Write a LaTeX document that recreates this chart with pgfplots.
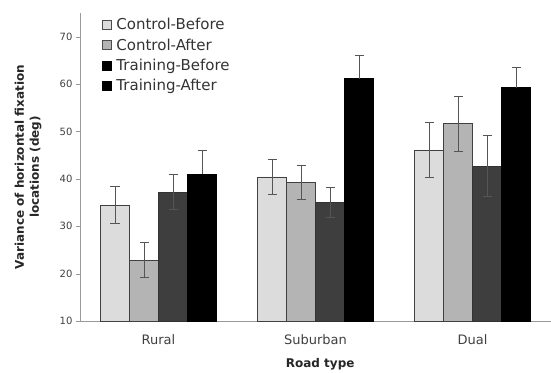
\documentclass[border=0pt]{standalone}
\usepackage{pgfplots}
\pgfplotsset{compat=1.18}
\usepackage{fontspec}
\setmainfont{DejaVu Sans}
\definecolor{cb}{HTML}{DCDCDC}
\definecolor{ca}{HTML}{B4B4B4}
\definecolor{tb}{HTML}{3E3E3E}
\definecolor{ta}{HTML}{000000}
\definecolor{errc}{HTML}{555555}
\definecolor{axc}{HTML}{9A9A9A}
\begin{document}
\begin{tikzpicture}
\path[use as bounding box] (-80pt,-51pt) rectangle (471pt,321pt);
\begin{axis}[
  at={(0pt,0pt)}, anchor=south west,
  width=471pt, height=308pt, scale only axis,
  ymin=10, ymax=75, xmin=-0.5, xmax=2.5,
  ybar, bar width=29pt,
  axis x line*=bottom, axis y line*=left,
  axis line style={draw=axc, line width=0.8pt},
  ytick={10,20,...,70},
  xtick={0,1,2}, xticklabels={Rural,Suburban,Dual},
  major x tick style={draw=none},
  extra x ticks={0.5,1.5}, extra x tick labels={},
  extra x tick style={major tick length=3pt, tick style={draw=axc}, tick pos=left},
  tick align=outside,
  major tick length=4pt,
  y tick style={draw=axc},
  /pgf/number format/assume math mode=true,
  yticklabel style={font=\fontsize{10}{12}\selectfont, text=black!75},
  xticklabel style={font=\fontsize{13}{15}\selectfont, text=black!75, yshift=-6pt},
  ylabel={Variance of horizontal fixation\\locations (deg)},
  ylabel style={at={(axis description cs:-0.11,0.5)}, anchor=center, rotate=0, align=center, font=\bfseries\fontsize{12}{15}\selectfont, text=black!85},
  xlabel={Road type},
  xlabel style={at={(axis description cs:0.51,-0.14)}, anchor=center, font=\bfseries\fontsize{12}{14}\selectfont, text=black!85},
  legend style={at={(axis description cs:0.047,0.99)}, anchor=north west, draw=none, fill=none,
    font=\fontsize{15}{17}\selectfont, text=black!80, row sep=3.5pt, inner sep=0pt,
    /tikz/every even column/.append style={column sep=0pt}},
  legend cell align=left,
  clip=false,
  error bars/y dir=both, error bars/y explicit,
  error bars/error bar style={draw=errc, line width=0.9pt},
  error bars/error mark options={rotate=90, mark size=4.5pt, draw=errc, line width=0.9pt},
]
\addlegendimage{legend image code/.code={\draw[fill=cb, draw=black!70, line width=0.6pt] (0pt,-4.5pt) rectangle (9pt,4.5pt);}}
\addlegendentry{\,Control-Before}
\addlegendimage{legend image code/.code={\draw[fill=ca, draw=black!70, line width=0.6pt] (0pt,-4.5pt) rectangle (9pt,4.5pt);}}
\addlegendentry{\,Control-After}
\addlegendimage{legend image code/.code={\draw[fill=black, draw=black, line width=0.6pt] (0pt,-4.5pt) rectangle (9pt,4.5pt);}}
\addlegendentry{\,Training-Before}
\addlegendimage{legend image code/.code={\draw[fill=black, draw=black, line width=0.6pt] (0pt,-4.5pt) rectangle (9pt,4.5pt);}}
\addlegendentry{\,Training-After}

\addplot[fill=cb, draw=black!75, line width=0.8pt, bar shift=-43.5pt, forget plot] coordinates {
 (0,34.4) +- (0,3.9)
 (1,40.4) +- (0,3.7)
 (2,46.1) +- (0,5.9)
};
\addplot[fill=ca, draw=black!75, line width=0.8pt, bar shift=-14.5pt, forget plot] coordinates {
 (0,22.8) +- (0,3.7)
 (1,39.3) +- (0,3.6)
 (2,51.6) +- (0,5.8)
};
\addplot[fill=tb, draw=black!80, line width=0.8pt, bar shift=14.5pt, forget plot] coordinates {
 (0,37.2) +- (0,3.7)
 (1,35.0) +- (0,3.2)
 (2,42.7) +- (0,6.4)
};
\addplot[fill=ta, draw=black, line width=0.8pt, bar shift=43.5pt, forget plot,
  error bars/y dir=plus] coordinates {
 (0,41.0) +- (0,5.0)
 (1,61.1) +- (0,4.9)
 (2,59.2) +- (0,4.4)
};
\end{axis}
\end{tikzpicture}
\end{document}
